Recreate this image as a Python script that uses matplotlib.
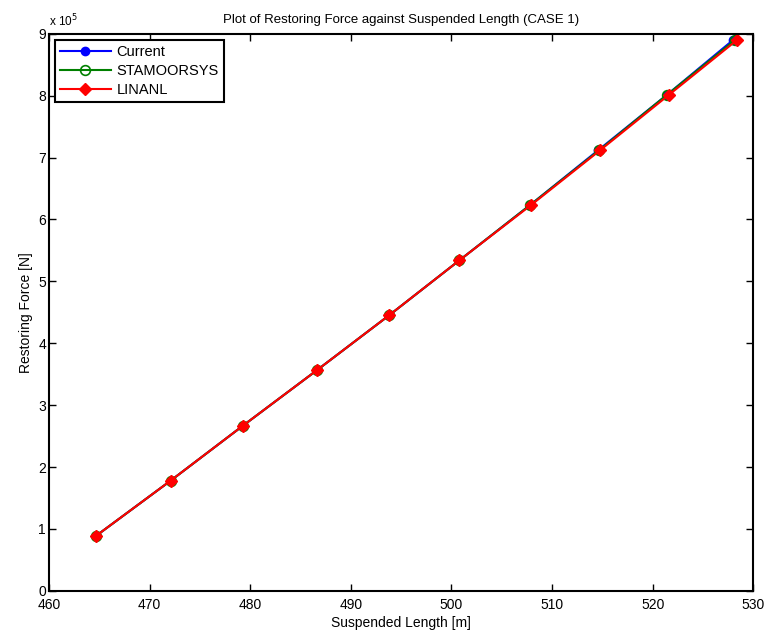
import numpy as np
import matplotlib.pyplot as plt
from matplotlib.ticker import FuncFormatter

plt.rcParams['font.family'] = ['Liberation Sans', 'DejaVu Sans']

# restoring force values (N), shared by all three methods
force = [0.89e5, 1.78e5, 2.67e5, 3.56e5, 4.45e5, 5.34e5, 6.23e5, 7.12e5, 8.01e5, 8.90e5]

# suspended length (m) for each method
len_current = [464.7, 472.1, 479.3, 486.6, 493.8, 500.8, 507.8, 514.6, 521.4, 528.0]
len_stamoorsys = [464.7, 472.1, 479.3, 486.6, 493.8, 500.8, 507.8, 514.7, 521.4, 528.2]
len_linanl = [464.7, 472.1, 479.3, 486.6, 493.8, 500.8, 507.9, 514.8, 521.6, 528.4]

fig = plt.figure(figsize=(7.64, 6.36), dpi=100)
ax = fig.add_axes([0.064, 0.071, 0.922, 0.876])

ax.plot(len_current, force, color='blue', marker='o', markersize=6, lw=1.5,
        label='Current')
ax.plot(len_stamoorsys, force, color='#008000', marker='o', markersize=7, lw=1.5,
        markerfacecolor='none', markeredgewidth=1.2, label='STAMOORSYS')
ax.plot(len_linanl, force, color='red', marker='D', markersize=6.5, lw=1.5,
        label='LINANL')

ax.set_xlim(460, 530)
ax.set_ylim(0, 9e5)
ax.set_xticks(np.arange(460, 531, 10))
ax.set_yticks(np.arange(0, 9.1e5, 1e5))
ax.yaxis.set_major_formatter(FuncFormatter(lambda v, p: f'{v/1e5:g}'))
ax.tick_params(direction='in', top=True, right=True, length=5, width=1,
               labelsize=10, pad=2)
ax.tick_params(axis='x', pad=5)
for s in ax.spines.values():
    s.set_linewidth(1.5)

ax.text(0.0, 1.008, r'x 10$^5$', transform=ax.transAxes, fontsize=8.5,
        ha='left', va='bottom')
ax.set_title('Plot of Restoring Force against Suspended Length (CASE 1)',
             fontsize=9.5, pad=8)
ax.set_xlabel('Suspended Length [m]', fontsize=10, labelpad=3)
ax.set_ylabel('Restoring Force [N]', fontsize=10, labelpad=4)

leg = ax.legend(loc='upper left', fontsize=10.5, fancybox=False, framealpha=1,
                edgecolor='black', borderpad=0.35, handlelength=3.5,
                handletextpad=0.4, labelspacing=0.35, borderaxespad=0.4)
leg.get_frame().set_linewidth(1.5)

fig.savefig('out.png', dpi=100)
